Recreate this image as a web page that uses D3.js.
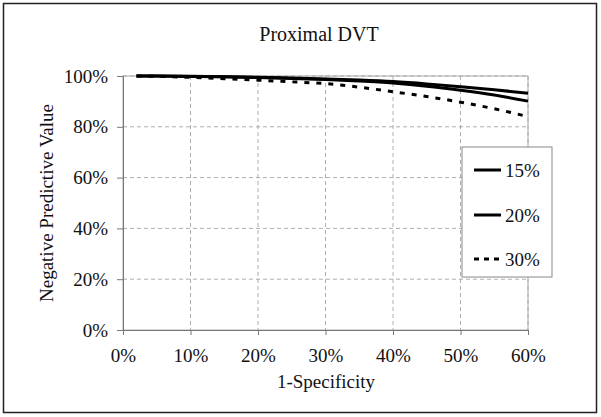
<!DOCTYPE html>
<html><head><meta charset="utf-8">
<script src="https://cdn.jsdelivr.net/npm/d3@7"></script>
<style>body{margin:0;background:#fff}</style>
</head><body>
<svg id="c" width="601" height="417"></svg>
<script>
const xVals = [2,5,10,15,20,25,30,35,40,45,50,55,60];
const s15 = [100,99.97,99.88,99.72,99.5,99.2,98.85,98.4,97.8,96.9,95.8,94.6,93.2];
const s20 = [100,99.96,99.84,99.66,99.4,99.05,98.6,98.0,97.2,96.0,94.4,92.5,90.1];
const s30 = [100,99.85,99.45,98.95,98.35,97.7,97.0,95.6,93.8,91.9,89.7,87.1,84.0];
const seriesNames = ["15%","20%","30%"];
const xTicks = [0,10,20,30,40,50,60];
const yTicks = [0,20,40,60,80,100];

const svg = d3.select("#c");
const font = "'Liberation Serif','Times New Roman',serif";
svg.append("rect").attr("x",3.5).attr("y",3.5).attr("width",593).attr("height",409)
  .attr("fill","#fff").attr("stroke","#222").attr("stroke-width",1.5);

const m = {l:123,r:528,t:76,b:330};
const x = d3.scaleLinear().domain([0,60]).range([m.l,m.r]);
const y = d3.scaleLinear().domain([0,100]).range([m.b,m.t]);

const g = svg.append("g");
g.selectAll(".gx").data(xTicks.slice(1)).join("line")
  .attr("x1",d=>x(d)).attr("x2",d=>x(d)).attr("y1",m.t).attr("y2",m.b)
  .attr("stroke","#999").attr("stroke-width",0.8).attr("stroke-dasharray","4,3");
g.selectAll(".gy").data(yTicks.slice(1)).join("line")
  .attr("x1",m.l).attr("x2",m.r).attr("y1",d=>y(d)).attr("y2",d=>y(d))
  .attr("stroke","#999").attr("stroke-width",0.8).attr("stroke-dasharray","4,3");
g.append("rect").attr("x",m.l).attr("y",m.t).attr("width",m.r-m.l).attr("height",m.b-m.t)
  .attr("fill","none").attr("stroke","#aaa").attr("stroke-width",1);

const xAxis = svg.append("g").attr("transform",`translate(0,${m.b})`)
  .call(d3.axisBottom(x).tickValues(xTicks).tickFormat(d=>d+"%").tickSize(5).tickPadding(14));
const yAxis = svg.append("g").attr("transform",`translate(${m.l},0)`)
  .call(d3.axisLeft(y).tickValues(yTicks).tickFormat(d=>d+"%").tickSize(6).tickPadding(9));
[xAxis,yAxis].forEach(a=>{
  a.selectAll("path,line").attr("stroke","#777").attr("stroke-width",1);
  a.selectAll("text").attr("font-family",font).attr("font-size",19).attr("fill","#111");
});

const line = d3.line().x((d,i)=>x(xVals[i])).y(d=>y(d)).curve(d3.curveMonotoneX);
const styles = [
  {data:s15, dash:null},
  {data:s20, dash:null},
  {data:s30, dash:"5,7"}
];
styles.forEach(s=>{
  svg.append("path").datum(s.data).attr("d",line).attr("fill","none")
    .attr("stroke","#000").attr("stroke-width",3).attr("stroke-dasharray",s.dash);
});

const lg = svg.append("g");
lg.append("rect").attr("x",462).attr("y",147).attr("width",90).attr("height",130)
  .attr("fill","#fff").attr("stroke","#888").attr("stroke-width",1);
const ly = [170,215,259];
seriesNames.forEach((n,i)=>{
  lg.append("line").attr("x1",474).attr("x2",501).attr("y1",ly[i]).attr("y2",ly[i])
    .attr("stroke","#000").attr("stroke-width",3).attr("stroke-dasharray",styles[i].dash?"5,5":null);
  lg.append("text").attr("x",505).attr("y",ly[i]+6.5).text(n)
    .attr("font-family",font).attr("font-size",19).attr("fill","#111");
});

svg.append("text").attr("x",319).attr("y",41).attr("text-anchor","middle").text("Proximal DVT")
  .attr("font-family",font).attr("font-size",20).attr("fill","#111");
svg.append("text").attr("x",326).attr("y",388).attr("text-anchor","middle").text("1-Specificity")
  .attr("font-family",font).attr("font-size",19).attr("fill","#111");
svg.append("text").attr("transform","translate(53,203) rotate(-90)").attr("text-anchor","middle")
  .text("Negative Predictive Value").attr("font-family",font).attr("font-size",19).attr("fill","#111");
</script>
</body></html>
